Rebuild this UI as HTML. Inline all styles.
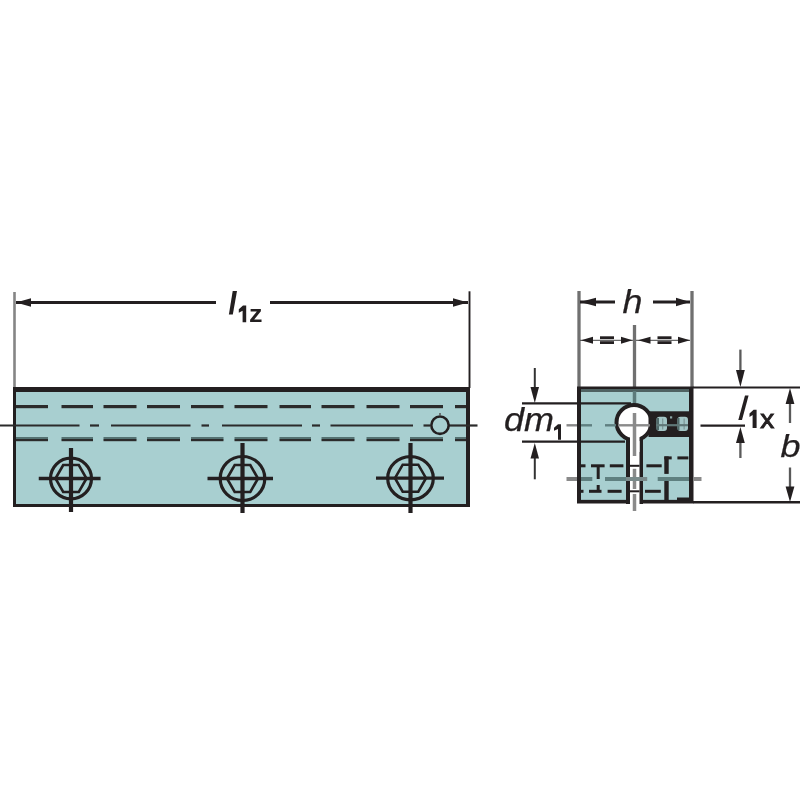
<!DOCTYPE html>
<html><head><meta charset="utf-8">
<style>
html,body{margin:0;padding:0;background:#fff;width:800px;height:800px;overflow:hidden}
svg{display:block;filter:blur(0.45px)}
text{font-family:"Liberation Sans",sans-serif;fill:#231f20}
.s{stroke:#231f20;stroke-width:0.25px}
</style></head><body>
<svg width="800" height="800" viewBox="0 0 800 800">
<!-- ===== LONG VIEW ===== -->
<!-- extension lines -->
<line x1="14.5" y1="292" x2="14.5" y2="388" stroke="#858585" stroke-width="2.6"/>
<line x1="469.5" y1="291.3" x2="469.5" y2="388" stroke="#231f20" stroke-width="1.9"/>
<!-- dimension line l1z -->
<line x1="16" y1="302.5" x2="216" y2="302.5" stroke="#231f20" stroke-width="3"/>
<line x1="270" y1="302.5" x2="468" y2="302.5" stroke="#231f20" stroke-width="3"/>
<path d="M16 302.5 L31 298.3 L31 306.7 Z" fill="#231f20"/>
<path d="M468 302.5 L453 298.3 L453 306.7 Z" fill="#231f20"/>
<path d="M232.7 291 L237 291 L232.8 314.4 L228.9 314.4 Z" fill="#231f20"/>
<path d="M238.8 309.3 L243 305.4 L246.2 305.4 L246.2 322.3 L242.6 322.3 L242.6 310.8 L238.8 312.8 Z" fill="#231f20"/>
<text x="249" y="322.3" font-size="24" font-weight="bold" textLength="13.5" lengthAdjust="spacingAndGlyphs">z</text>

<!-- block -->
<rect x="13" y="387" width="457" height="120" fill="#231f20"/>
<rect x="16" y="392" width="450" height="112" fill="#a8cfd0"/>

<!-- dashed lines -->
<g>
<rect x="16" y="405" width="32" height="3.2" fill="#2b2b2b"/>
<rect x="16" y="437" width="32" height="2.2" fill="#557272"/>
<rect x="16" y="439" width="32" height="2.2" fill="#2b2b2b"/>
<rect x="61.5" y="405" width="31.5" height="3.2" fill="#2b2b2b"/>
<rect x="61.5" y="437" width="31.5" height="2.2" fill="#557272"/>
<rect x="61.5" y="439" width="31.5" height="2.2" fill="#2b2b2b"/>
<rect x="103.5" y="405" width="33.0" height="3.2" fill="#2b2b2b"/>
<rect x="103.5" y="437" width="33.0" height="2.2" fill="#557272"/>
<rect x="103.5" y="439" width="33.0" height="2.2" fill="#2b2b2b"/>
<rect x="147" y="405" width="33" height="3.2" fill="#2b2b2b"/>
<rect x="147" y="437" width="33" height="2.2" fill="#557272"/>
<rect x="147" y="439" width="33" height="2.2" fill="#2b2b2b"/>
<rect x="191" y="405" width="32.5" height="3.2" fill="#2b2b2b"/>
<rect x="191" y="437" width="32.5" height="2.2" fill="#557272"/>
<rect x="191" y="439" width="32.5" height="2.2" fill="#2b2b2b"/>
<rect x="234.5" y="405" width="33.0" height="3.2" fill="#2b2b2b"/>
<rect x="234.5" y="437" width="33.0" height="2.2" fill="#557272"/>
<rect x="234.5" y="439" width="33.0" height="2.2" fill="#2b2b2b"/>
<rect x="279.5" y="405" width="31.5" height="3.2" fill="#2b2b2b"/>
<rect x="279.5" y="437" width="31.5" height="2.2" fill="#557272"/>
<rect x="279.5" y="439" width="31.5" height="2.2" fill="#2b2b2b"/>
<rect x="321.5" y="405" width="33.0" height="3.2" fill="#2b2b2b"/>
<rect x="321.5" y="437" width="33.0" height="2.2" fill="#557272"/>
<rect x="321.5" y="439" width="33.0" height="2.2" fill="#2b2b2b"/>
<rect x="366.5" y="405" width="33.0" height="3.2" fill="#2b2b2b"/>
<rect x="366.5" y="437" width="33.0" height="2.2" fill="#557272"/>
<rect x="366.5" y="439" width="33.0" height="2.2" fill="#2b2b2b"/>
<rect x="410" y="405" width="33" height="3.2" fill="#2b2b2b"/>
<rect x="410" y="437" width="33" height="2.2" fill="#557272"/>
<rect x="410" y="439" width="33" height="2.2" fill="#2b2b2b"/>
<rect x="455" y="405" width="11" height="3.2" fill="#2b2b2b"/>
<rect x="455" y="437" width="11" height="2.2" fill="#557272"/>
<rect x="455" y="439" width="11" height="2.2" fill="#2b2b2b"/>
</g>
<!-- centerline -->
<g stroke="#2b2b2b" stroke-width="2.2">
<line x1="0" y1="425.5" x2="79.5" y2="425.5"/>
<line x1="90" y1="425.5" x2="99" y2="425.5"/>
<line x1="111" y1="425.5" x2="190.5" y2="425.5"/>
<line x1="201.5" y1="425.5" x2="209" y2="425.5"/>
<line x1="222" y1="425.5" x2="302" y2="425.5"/>
<line x1="312" y1="425.5" x2="320" y2="425.5"/>
<line x1="330.5" y1="425.5" x2="413" y2="425.5"/>
<line x1="423.5" y1="425.5" x2="430" y2="425.5"/>
<line x1="449" y1="425.5" x2="477.5" y2="425.5"/>
</g>
<circle cx="440" cy="425.2" r="8.7" fill="none" stroke="#231f20" stroke-width="2.6"/>
<line x1="440" y1="413" x2="440" y2="416" stroke="#555" stroke-width="1.5"/>

<!-- bolts -->
<g fill="none" stroke="#231f20">
<ellipse cx="71" cy="478.5" rx="20.5" ry="20.3" stroke-width="3.2"/>
<path d="M55.5 478.5 L63.2 465.0 L78.8 465.0 L86.5 478.5 L78.8 492.0 L63.2 492.0 Z" stroke-width="2.6"/>
<line x1="38.75" y1="478.5" x2="100.6" y2="478.5" stroke-width="3.3"/>
<line x1="71" y1="448" x2="71" y2="512" stroke-width="4.2"/>
<ellipse cx="242.5" cy="478.5" rx="22.3" ry="22" stroke-width="3.2"/>
<path d="M227.0 478.5 L234.7 465.0 L250.3 465.0 L258.0 478.5 L250.3 492.0 L234.7 492.0 Z" stroke-width="2.6"/>
<line x1="207.5" y1="478.5" x2="273" y2="478.5" stroke-width="3.3"/>
<line x1="242.5" y1="443" x2="242.5" y2="513" stroke-width="4.2"/>
<ellipse cx="410.5" cy="478.2" rx="22.8" ry="21.6" stroke-width="3.2"/>
<path d="M395.0 478.2 L402.7 464.7 L418.3 464.7 L426.0 478.2 L418.3 491.7 L402.7 491.7 Z" stroke-width="2.6"/>
<line x1="376" y1="478.2" x2="444" y2="478.2" stroke-width="3.3"/>
<line x1="410.5" y1="443" x2="410.5" y2="513" stroke-width="4.2"/>
</g>

<!-- ===== END VIEW ===== -->
<!-- extension lines -->
<line x1="579" y1="291" x2="579" y2="388" stroke="#707070" stroke-width="3.3"/>
<line x1="692" y1="291" x2="692" y2="388" stroke="#707070" stroke-width="3.3"/>
<!-- h dimension -->
<line x1="580" y1="302" x2="615" y2="302" stroke="#231f20" stroke-width="3"/>
<line x1="653" y1="302" x2="690" y2="302" stroke="#231f20" stroke-width="3"/>
<path d="M580 302 L596 297.8 L596 306.2 Z" fill="#231f20"/>
<path d="M690 302 L676 297.8 L676 306.2 Z" fill="#231f20"/>
<text x="622.5" y="313" font-size="34" font-style="italic" class="s" textLength="20" lengthAdjust="spacingAndGlyphs">h</text>
<!-- equal row -->
<line x1="580" y1="340.3" x2="690" y2="340.3" stroke="#444" stroke-width="1"/>
<g fill="#231f20">
<path d="M581 340.3 L593 336.8 L593 343.8 Z"/>
<rect x="600" y="336.3" width="14" height="2.8"/>
<rect x="600" y="341.2" width="14" height="2.8"/>
<path d="M632.5 340.3 L621 336.8 L621 343.8 Z"/>
<path d="M638 340.3 L650.5 336.8 L650.5 343.8 Z"/>
<rect x="657.5" y="336.3" width="14" height="2.8"/>
<rect x="657.5" y="341.2" width="14" height="2.8"/>
<path d="M690 340.3 L678 336.8 L678 343.8 Z"/>
</g>
<!-- center vertical line (above block) -->
<line x1="634.5" y1="325" x2="634.5" y2="390" stroke="#707070" stroke-width="3.3"/>

<!-- block -->
<rect x="577" y="386.5" width="116.5" height="117" fill="#231f20"/>
<rect x="581" y="389" width="108" height="110.8" fill="#4f6262"/>
<rect x="581" y="392" width="108" height="107.8" fill="#a8cfd0"/>
<line x1="634.5" y1="391" x2="634.5" y2="404" stroke="#5d7b7b" stroke-width="3.5"/>

<!-- dm1 extension lines -->
<line x1="522" y1="403.3" x2="631" y2="403.3" stroke="#231f20" stroke-width="2.2"/>
<line x1="522" y1="441.6" x2="625" y2="441.6" stroke="#231f20" stroke-width="2.3"/>

<!-- slot -->
<rect x="626" y="436" width="17" height="68" fill="#231f20"/>
<rect x="630" y="430" width="9.5" height="74" fill="#fff"/>
<!-- hole -->
<circle cx="634" cy="422.5" r="17.5" fill="#fff" stroke="#231f20" stroke-width="4"/>
<rect x="630" y="432" width="9.5" height="20" fill="#fff"/>

<!-- threaded hole -->
<rect x="648.5" y="411.3" width="44.5" height="25.7" fill="#231f20"/>
<rect x="656.5" y="416.8" width="10.5" height="14.3" rx="3" fill="#a3c6c6"/>
<rect x="677.5" y="416.8" width="10.5" height="14.3" rx="3" fill="#a3c6c6"/>
<rect x="656.5" y="418" width="2.5" height="12" fill="#4f6868"/>
<rect x="677.5" y="418" width="2" height="12" fill="#4f6868"/>
<rect x="683.5" y="418.5" width="1.3" height="11" fill="#7f9a9a"/>
<rect x="662" y="418.5" width="1.3" height="11" fill="#7f9a9a"/>
<rect x="670" y="416.3" width="2.2" height="2.2" fill="#8aa6a6"/>
<line x1="656" y1="425.2" x2="688" y2="425.2" stroke="#5f7777" stroke-width="2.2"/>
<!-- centerline y=425 end view -->
<g stroke="#7a8a8a" stroke-width="2.4">
<line x1="566.5" y1="425.3" x2="577" y2="425.3" stroke="#888"/>
<line x1="581" y1="425.3" x2="592" y2="425.3" stroke="#5f7f80"/>
<line x1="605" y1="425.3" x2="616" y2="425.3" stroke="#5f7f80"/>
<line x1="618" y1="425.3" x2="650" y2="425.3" stroke="#8a8a8a"/>
<line x1="700.5" y1="425.6" x2="745" y2="425.6" stroke="#231f20" stroke-width="2.2"/>
</g>
<!-- vertical centerline in hole and slot -->
<g stroke="#8a8a8a" stroke-width="3.5">
<line x1="634.5" y1="413" x2="634.5" y2="456"/>
<line x1="634.5" y1="468.8" x2="634.5" y2="489"/>
<line x1="634.5" y1="494" x2="634.5" y2="511"/>
</g>
<!-- lower dashed lines -->
<g fill="#231f20">
<rect x="580.5" y="464.3" width="5" height="3"/>
<rect x="591" y="464.3" width="13.6" height="3"/>
<rect x="609.8" y="464.3" width="13.6" height="3"/>
<rect x="630" y="464.8" width="9.5" height="2"/>
<rect x="646.4" y="464.3" width="15.3" height="3"/>
<rect x="580.5" y="489.8" width="3" height="3"/>
<rect x="589" y="489.8" width="12.5" height="3"/>
<rect x="607.6" y="489.8" width="14" height="3"/>
<rect x="630" y="490.3" width="9.5" height="2"/>
<rect x="645" y="489.8" width="15.8" height="3"/>
<!-- I symbol -->
<rect x="596.7" y="465" width="3" height="14"/>
<rect x="596.7" y="485" width="3" height="6"/>
<!-- corner -->
<rect x="664.3" y="456.4" width="4.4" height="17.5"/>
<rect x="664.3" y="456.4" width="7.4" height="3"/>
<rect x="677.4" y="456.4" width="11" height="3"/>
<rect x="664.3" y="480" width="4.4" height="22"/>
<rect x="677" y="497.5" width="12" height="3"/>
</g>
<!-- lower grey centerline -->
<g stroke-width="4">
<line x1="566.5" y1="479" x2="577" y2="479" stroke="#8a8a8a"/>
<line x1="581" y1="479" x2="592.3" y2="479" stroke="#5f8080"/>
<line x1="605" y1="479" x2="626" y2="479" stroke="#5f8080"/>
<line x1="626" y1="479" x2="647.2" y2="479" stroke="#7a8a8a"/>
<line x1="657.7" y1="479" x2="689" y2="479" stroke="#5f8080"/>
<line x1="693" y1="479" x2="701.5" y2="479" stroke="#8a8a8a"/>
</g>
<!-- right extension lines -->
<line x1="693" y1="387.5" x2="800" y2="387.5" stroke="#231f20" stroke-width="2.2"/>
<line x1="693" y1="502.3" x2="800" y2="502.3" stroke="#231f20" stroke-width="2.6"/>

<!-- l1x dimension -->
<line x1="740.4" y1="349.6" x2="740.4" y2="372" stroke="#5a5a5a" stroke-width="2.3"/>
<path d="M740.4 387 L736 370 L744.8 370 Z" fill="#231f20"/>
<line x1="740.4" y1="440" x2="740.4" y2="458" stroke="#5a5a5a" stroke-width="2.3"/>
<path d="M740.4 427 L736 443 L744.8 443 Z" fill="#231f20"/>
<path d="M745 395.5 L748.6 395.5 L742 420 L738.3 420 Z" fill="#231f20"/>
<path d="M749.5 413.6 L753.6 409.8 L756.6 409.8 L756.6 428 L752.6 428 L752.6 415 L749.5 417 Z" fill="#231f20"/>
<text x="760.3" y="428" font-size="25" class="s" style="stroke-width:0.9px" textLength="14" lengthAdjust="spacingAndGlyphs">x</text>

<!-- b dimension -->
<line x1="790" y1="400" x2="790" y2="423" stroke="#5a5a5a" stroke-width="2.3"/>
<path d="M790 388 L785.6 404 L794.4 404 Z" fill="#231f20"/>
<line x1="790" y1="467.5" x2="790" y2="488" stroke="#5a5a5a" stroke-width="2.3"/>
<path d="M790 502 L785.6 486.5 L794.4 486.5 Z" fill="#231f20"/>
<text x="780.5" y="457" font-size="32" font-style="italic" class="s" textLength="20" lengthAdjust="spacingAndGlyphs">b</text>

<!-- dm1 dimension -->
<line x1="534.8" y1="368" x2="534.8" y2="390" stroke="#333" stroke-width="2"/>
<path d="M534.8 403 L530.5 387 L539 387 Z" fill="#231f20"/>
<line x1="534.8" y1="455" x2="534.8" y2="479.3" stroke="#333" stroke-width="2"/>
<path d="M534.8 443 L530.5 458.5 L539 458.5 Z" fill="#231f20"/>
<text x="504" y="431.4" font-size="33" font-style="italic" class="s" textLength="50" lengthAdjust="spacingAndGlyphs">dm</text>
<path d="M554 427.8 L558 424.3 L561 424.3 L561 439.8 L558 439.8 L558 429 L554 430.8 Z" fill="#231f20"/>
</svg>
</body></html>
